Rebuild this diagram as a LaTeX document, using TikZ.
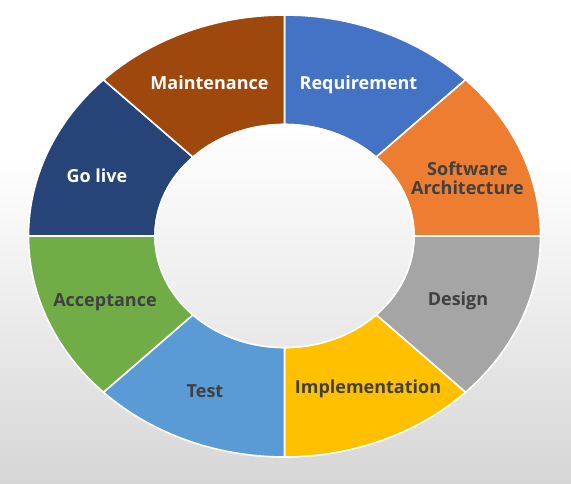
\documentclass[tikz,border=0pt]{standalone}
\usepackage{fontspec}
\setmainfont{Open Sans}
\definecolor{reqblue}{HTML}{4472C4}
\definecolor{archorange}{HTML}{ED7D31}
\definecolor{designgray}{HTML}{A5A5A5}
\definecolor{implyellow}{HTML}{FFC000}
\definecolor{testblue}{HTML}{5B9BD5}
\definecolor{accgreen}{HTML}{70AD47}
\definecolor{livenavy}{HTML}{264478}
\definecolor{maintbrown}{HTML}{9E480E}
\definecolor{labeldark}{HTML}{404040}
\definecolor{bggray}{HTML}{D6D6D6}

\begin{document}
\begin{tikzpicture}[x=1pt,y=1pt,
  seg/.style={draw=white,line width=1.6pt,line join=round},
  phase/.style={font=\fontsize{18}{19}\selectfont\bfseries,inner sep=0pt,anchor=base},
  light/.style={phase,text=white},
  dark/.style={phase,text=labeldark}]
  \useasboundingbox (-284.5,-247) rectangle (286.5,236);
  % background
  \fill[white] (-284.5,-247) rectangle (286.5,236);
  \shade[top color=white,bottom color=bggray] (-284.5,-247) rectangle (286.5,76);
  % ring segments
  \filldraw[seg,fill=reqblue] (90:129.5 and 111.5) -- (90:256 and 221)
    arc[start angle=90,end angle=45,x radius=256,y radius=221] -- (45:129.5 and 111.5)
    arc[start angle=45,end angle=90,x radius=129.5,y radius=111.5] -- cycle;
  \filldraw[seg,fill=archorange] (45:129.5 and 111.5) -- (45:256 and 221)
    arc[start angle=45,end angle=0,x radius=256,y radius=221] -- (0:129.5 and 111.5)
    arc[start angle=0,end angle=45,x radius=129.5,y radius=111.5] -- cycle;
  \filldraw[seg,fill=designgray] (0:129.5 and 111.5) -- (0:256 and 221)
    arc[start angle=0,end angle=-45,x radius=256,y radius=221] -- (-45:129.5 and 111.5)
    arc[start angle=-45,end angle=0,x radius=129.5,y radius=111.5] -- cycle;
  \filldraw[seg,fill=implyellow] (-45:129.5 and 111.5) -- (-45:256 and 221)
    arc[start angle=-45,end angle=-90,x radius=256,y radius=221] -- (-90:129.5 and 111.5)
    arc[start angle=-90,end angle=-45,x radius=129.5,y radius=111.5] -- cycle;
  \filldraw[seg,fill=testblue] (-90:129.5 and 111.5) -- (-90:256 and 221)
    arc[start angle=-90,end angle=-135,x radius=256,y radius=221] -- (-135:129.5 and 111.5)
    arc[start angle=-135,end angle=-90,x radius=129.5,y radius=111.5] -- cycle;
  \filldraw[seg,fill=accgreen] (-135:129.5 and 111.5) -- (-135:256 and 221)
    arc[start angle=-135,end angle=-180,x radius=256,y radius=221] -- (-180:129.5 and 111.5)
    arc[start angle=-180,end angle=-135,x radius=129.5,y radius=111.5] -- cycle;
  \filldraw[seg,fill=livenavy] (180:129.5 and 111.5) -- (180:256 and 221)
    arc[start angle=180,end angle=135,x radius=256,y radius=221] -- (135:129.5 and 111.5)
    arc[start angle=135,end angle=180,x radius=129.5,y radius=111.5] -- cycle;
  \filldraw[seg,fill=maintbrown] (135:129.5 and 111.5) -- (135:256 and 221)
    arc[start angle=135,end angle=90,x radius=256,y radius=221] -- (90:129.5 and 111.5)
    arc[start angle=90,end angle=135,x radius=129.5,y radius=111.5] -- cycle;
  % hole
  \shade[top color=white,bottom color=black!9,draw=white,line width=1.6pt]
    (0,0) ellipse[x radius=129.5,y radius=111.5];
  % labels
  \node[light] (req) at (74,147) {Requirement};
  \node[dark,align=center,anchor=center] (arch) at (183,58) {Software\\Architecture};
  \node[dark] (design) at (173.5,-69) {Design};
  \node[dark] (impl) at (83.5,-157) {Implementation};
  \node[dark] (test) at (-79.5,-161) {Test};
  \node[dark] (accept) at (-179.5,-70) {Acceptance};
  \node[light] (golive) at (-187.5,54) {Go live};
  \node[light] (maint) at (-75,147) {Maintenance};
\end{tikzpicture}
\end{document}
